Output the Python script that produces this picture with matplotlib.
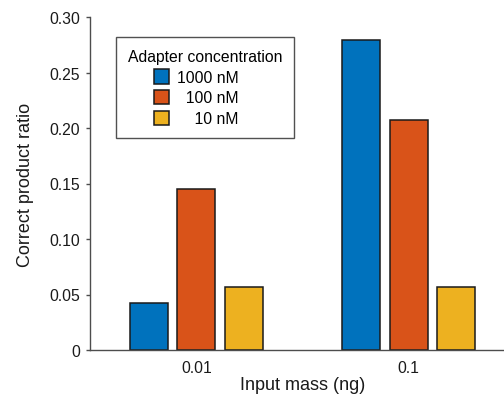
import matplotlib
matplotlib.use("Agg")
import matplotlib.pyplot as plt
import numpy as np

plt.rcParams['font.family'] = ['Liberation Sans', 'DejaVu Sans']

categories = ['0.01', '0.1']
series_labels = ['1000 nM\u2007\u2007', '\u2007100 nM\u2007\u2007', '\u2007\u200710 nM\u2007\u2007']
values = {
    '1000 nM': [0.042, 0.279],
    '100 nM': [0.145, 0.207],
    '10 nM': [0.057, 0.057],
}
colors = ['#0072BD', '#D95319', '#EDB120']
yticks = [0, 0.05, 0.10, 0.15, 0.20, 0.25, 0.30]
ytick_labels = ['0', '0.05', '0.10', '0.15', '0.20', '0.25', '0.30']

W, H = 504, 406
fig = plt.figure(figsize=(W / 100, H / 100), dpi=100)
ax = fig.add_axes([90 / W, (H - 351) / H, (515 - 90) / W, (351 - 18) / H])

x = np.arange(1, len(categories) + 1)
offsets = [-0.223, 0.0, 0.223]
width = 0.178
handles = []
for (key, vals), off, c, lab in zip(values.items(), offsets, colors, series_labels):
    b = ax.bar(x + off, vals, width, color=c, edgecolor='#1a1a1a', linewidth=1.1, label=lab)
    handles.append(b)

ax.set_xlim(0.5, 2.5)
ax.set_ylim(0, 0.30)
ax.set_xticks(x)
ax.set_xticklabels(categories)
ax.set_yticks(yticks)
ax.set_yticklabels(ytick_labels)
for s in ['top', 'right']:
    ax.spines[s].set_visible(False)
for s in ['left', 'bottom']:
    ax.spines[s].set_color('#4d4d4d')
    ax.spines[s].set_linewidth(1.0)
ax.tick_params(axis='y', direction='out', length=3, width=1, color='#4d4d4d', labelsize=11.3, pad=4, labelcolor='#1a1a1a')
ax.tick_params(axis='x', length=0, labelsize=11.3, pad=7, labelcolor='#1a1a1a')
ax.set_xlabel('Input mass (ng)', fontsize=13, color='#1a1a1a', labelpad=1)
ax.set_ylabel('Correct product ratio', fontsize=13, color='#1a1a1a', labelpad=11)

leg = ax.legend(handles=handles, title='Adapter concentration', loc='upper left',
                bbox_to_anchor=((116 - 90) / (515 - 90), 1 - (38 - 18) / (351 - 18)),
                frameon=True, fancybox=False, edgecolor='#262626', fontsize=11.3,
                title_fontsize=11.3, handlelength=0.95, handleheight=1.05, handletextpad=0.5,
                labelspacing=0.33, borderpad=0.75, borderaxespad=0)
leg.get_frame().set_linewidth(1.0)
leg._legend_box.align = 'center'

fig.savefig('out.png', dpi=100)
